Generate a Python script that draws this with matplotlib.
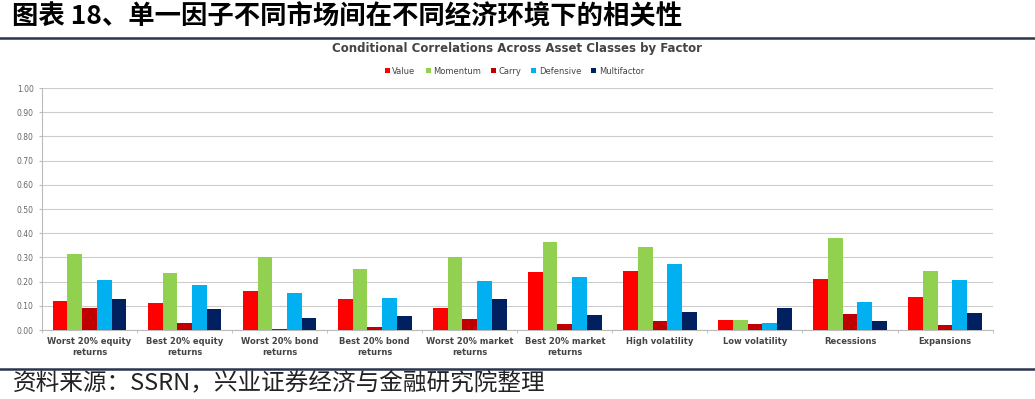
import matplotlib.pyplot as plt
import numpy as np
from matplotlib.lines import Line2D

plt.rcParams["font.family"] = ["DejaVu Sans", "Noto Sans CJK SC"]

categories = [
    "Worst 20% equity\nreturns",
    "Best 20% equity\nreturns",
    "Worst 20% bond\nreturns",
    "Best 20% bond\nreturns",
    "Worst 20% market\nreturns",
    "Best 20% market\nreturns",
    "High volatility",
    "Low volatility",
    "Recessions",
    "Expansions",
]
series_names = ["Value", "Momentum", "Carry", "Defensive", "Multifactor"]
value = [0.12, 0.11, 0.16, 0.13, 0.09, 0.24, 0.245, 0.043, 0.212, 0.138]
momentum = [0.313, 0.237, 0.303, 0.252, 0.30, 0.365, 0.342, 0.043, 0.381, 0.243]
carry = [0.09, 0.03, 0.005, 0.012, 0.044, 0.026, 0.036, 0.026, 0.067, 0.021]
defensive = [0.208, 0.186, 0.154, 0.134, 0.202, 0.219, 0.271, 0.029, 0.117, 0.205]
multifactor = [0.128, 0.088, 0.051, 0.058, 0.127, 0.061, 0.076, 0.09, 0.036, 0.07]
y_ticks = [0.0, 0.1, 0.2, 0.3, 0.4, 0.5, 0.6, 0.7, 0.8, 0.9, 1.0]

colors = ["#FF0000", "#92D050", "#C00000", "#00B0F0", "#002060"]
all_series = [value, momentum, carry, defensive, multifactor]

fig = plt.figure(figsize=(10.35, 3.99), dpi=100)
ax = fig.add_axes([0.0406, 0.1729, 0.9184, 0.6065])

x = np.arange(len(categories))
width = 0.155
for idx, (name, vals, color) in enumerate(zip(series_names, all_series, colors)):
    offset = (idx - 2) * width
    ax.bar(x + offset, vals, width, color=color, label=name, zorder=3)

ax.set_xlim(-0.5, len(categories) - 0.5)
ax.set_ylim(0, 1.0)
ax.set_yticks(y_ticks)
ax.set_yticklabels([f"{t:.2f}" for t in y_ticks], fontsize=5.5, color="#666666")
ax.yaxis.grid(True, color="#cccccc", linewidth=0.8, zorder=0)
ax.set_xticks(x)
ax.set_xticklabels(categories, fontsize=6, fontweight="bold", color="#444444", linespacing=1.3)
ax.set_xticks(np.arange(len(categories) + 1) - 0.5, minor=True)
ax.tick_params(axis="x", which="major", length=0, pad=5)
ax.tick_params(axis="x", which="minor", length=2, color="#bbbbbb")
ax.tick_params(axis="y", length=2, color="#bbbbbb", pad=4)
for side in ["top", "right"]:
    ax.spines[side].set_visible(False)
ax.spines["left"].set_color("#bbbbbb")
ax.spines["bottom"].set_color("#bbbbbb")

ax.legend(
    loc="lower center",
    bbox_to_anchor=(0.497, 1.02),
    ncol=5,
    frameon=False,
    fontsize=6,
    handlelength=0.6,
    handleheight=0.6,
    handletextpad=0.3,
    columnspacing=1.2,
    labelcolor="#444444",
)

fig.text(0.012, 0.958, "图表 18、单一因子不同市场间在不同经济环境下的相关性",
         fontsize=19, fontweight="bold", family=["Noto Sans CJK SC"], va="center", ha="left")
fig.add_artist(Line2D([0.0, 1.0], [0.905, 0.905], color="#2a3550", linewidth=1.8, transform=fig.transFigure))
fig.text(0.5, 0.878, "Conditional Correlations Across Asset Classes by Factor",
         fontsize=8.5, fontweight="bold", color="#444444", ha="center", va="center")
fig.add_artist(Line2D([0.0, 1.0], [0.075, 0.075], color="#2a3550", linewidth=1.8, transform=fig.transFigure))
fig.text(0.012, 0.040, "资料来源：SSRN，兴业证券经济与金融研究院整理",
         fontsize=17, family=["Noto Sans CJK SC"], va="center", ha="left", color="#222222")

fig.savefig("out.png", dpi=100)
